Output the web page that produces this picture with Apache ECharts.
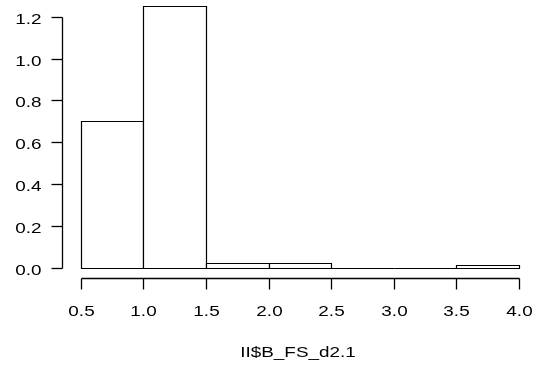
<!DOCTYPE html>
<html>
<head>
<meta charset="utf-8">
<script src="https://cdn.jsdelivr.net/npm/echarts@6/dist/echarts.min.js"></script>
<style>
  html, body { margin: 0; padding: 0; background: #fff; }
  #chart { width: 534px; height: 371px; }
</style>
</head>
<body>
<div id="chart"></div>
<script>
// Histogram of II$B_FS_d2.1 (density scale)
const binEdges = [0.5, 1.0, 1.5, 2.0, 2.5, 3.0, 3.5, 4.0];
const density = [0.70, 1.25, 0.02, 0.02, 0.0, 0.0, 0.01];
const xTicks = [0.5, 1.0, 1.5, 2.0, 2.5, 3.0, 3.5, 4.0];
const xTickLabels = ['0.5', '1.0', '1.5', '2.0', '2.5', '3.0', '3.5', '4.0'];
const yTicks = [0.0, 0.2, 0.4, 0.6, 0.8, 1.0, 1.2];
const yTickLabels = ['0.0', '0.2', '0.4', '0.6', '0.8', '1.0', '1.2'];
const xTitle = 'II$B_FS_d2.1';

const FONT = '15px "Liberation Sans", Arial, sans-serif';
const STRETCH = 1.26;   // text is drawn horizontally widened
const INK = '#000';

const X_MIN = 0.35, X_MAX = 4.12, Y_MIN = -0.055, Y_MAX = 1.28;

const binData = density.map((d, i) => [binEdges[i], binEdges[i + 1], d]);

const chart = echarts.init(document.getElementById('chart'), null, { renderer: 'canvas' });

function crisp(v) { return Math.round(v) + 0.5; }

function label(text, x, y, align) {
  return {
    type: 'text', x: x, y: y, scaleX: STRETCH,
    style: { text: text, x: 0, y: 0, align: align, verticalAlign: 'middle', font: FONT, fill: INK }
  };
}

chart.setOption({
  animation: false,
  backgroundColor: '#fff',
  grid: { left: 62, right: 0, top: 0, bottom: 92, containLabel: false },
  xAxis: {
    type: 'value', min: X_MIN, max: X_MAX,
    axisLine: { show: false }, axisTick: { show: false }, axisLabel: { show: false }, splitLine: { show: false }
  },
  yAxis: {
    type: 'value', min: Y_MIN, max: Y_MAX,
    axisLine: { show: false }, axisTick: { show: false }, axisLabel: { show: false }, splitLine: { show: false }
  },
  series: [
    {
      // histogram bars
      type: 'custom',
      data: binData,
      renderItem: function (params, api) {
        const p0 = api.coord([api.value(0), 0]);
        const p1 = api.coord([api.value(1), api.value(2)]);
        const x = crisp(p0[0]), x2 = crisp(p1[0]);
        const yb = crisp(p0[1]), yt = crisp(p1[1]);
        return {
          type: 'rect',
          shape: { x: x, y: yt, width: x2 - x, height: yb - yt },
          style: { fill: '#fff', stroke: INK, lineWidth: 1.2 }
        };
      }
    },
    {
      // axes in base-graphics style: lines span only the tick range
      type: 'custom',
      data: [[0]],
      renderItem: function (params, api) {
        const children = [];
        const tick = 11;
        const lw = 1.3;
        // x axis
        const xa = api.coord([xTicks[0], Y_MIN]);
        const xb = api.coord([xTicks[xTicks.length - 1], Y_MIN]);
        const yAx = crisp(xa[1]) - 1;
        children.push({ type: 'line', shape: { x1: crisp(xa[0]), y1: yAx, x2: crisp(xb[0]), y2: yAx },
          style: { stroke: INK, lineWidth: lw } });
        xTicks.forEach((v, i) => {
          const x = crisp(api.coord([v, 0])[0]);
          children.push({ type: 'line', shape: { x1: x, y1: yAx, x2: x, y2: yAx + tick },
            style: { stroke: INK, lineWidth: lw } });
          children.push(label(xTickLabels[i], x, yAx + 33, 'center'));
        });
        // axis title
        const mid = api.coord([(X_MIN + X_MAX) / 2, Y_MIN]);
        children.push(label(xTitle, mid[0], yAx + 74, 'center'));
        // y axis
        const ya = api.coord([X_MIN, yTicks[0]]);
        const yb = api.coord([X_MIN, yTicks[yTicks.length - 1]]);
        const xAx = crisp(ya[0]);
        children.push({ type: 'line', shape: { x1: xAx, y1: crisp(ya[1]), x2: xAx, y2: crisp(yb[1]) },
          style: { stroke: INK, lineWidth: lw } });
        yTicks.forEach((v, i) => {
          const y = crisp(api.coord([X_MIN, v])[1]);
          children.push({ type: 'line', shape: { x1: xAx, y1: y, x2: xAx - tick, y2: y },
            style: { stroke: INK, lineWidth: lw } });
          children.push(label(yTickLabels[i], xAx - 21, y + 2, 'right'));
        });
        return { type: 'group', children: children };
      }
    }
  ]
});
</script>
</body>
</html>
